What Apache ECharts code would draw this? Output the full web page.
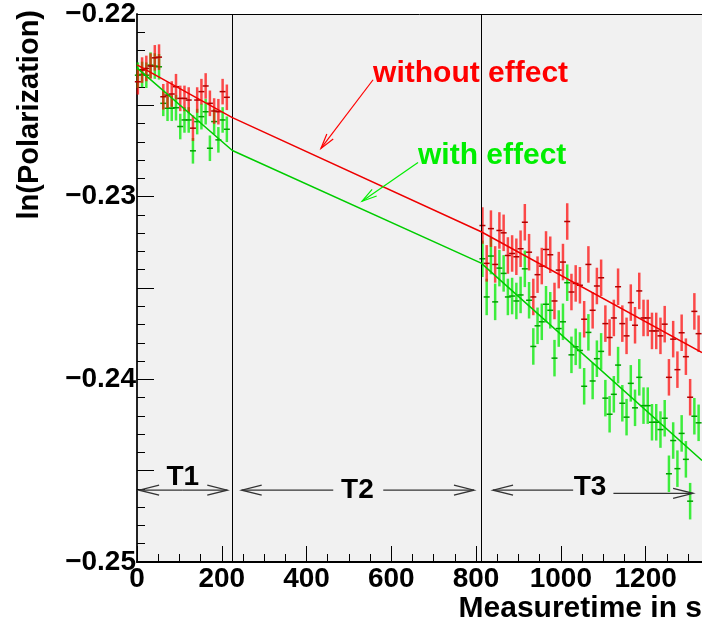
<!DOCTYPE html>
<html>
<head>
<meta charset="utf-8">
<script src="https://cdn.jsdelivr.net/npm/echarts@6/dist/echarts.min.js"></script>
<style>
  html, body { margin: 0; padding: 0; background: #fff; }
  #chart { width: 702px; height: 626px; }
</style>
</head>
<body>
<div id="chart"></div>
<script>
// measuring period T1 (s) and ln(P) values
const t1Time = [2, 12, 22, 32, 42, 52, 62, 72, 82, 92, 102, 112, 122, 132, 142, 152, 162, 172, 182, 192, 202, 212]
const t1Red = [-0.22371, -0.22307, -0.22298, -0.22285, -0.22240, -0.22236, -0.22453, -0.22444, -0.22438, -0.22398, -0.22462,
  -0.22462, -0.22471, -0.22625, -0.22471, -0.22425, -0.22394, -0.22489, -0.22531, -0.22535, -0.22425, -0.22456]
const t1Green = [-0.22335, -0.22331, -0.22335, -0.22280, -0.22285, -0.22289, -0.22489, -0.22516, -0.22516, -0.22513, -0.22616,
  -0.22580, -0.22580, -0.22749, -0.22589, -0.22562, -0.22535, -0.22735, -0.22589, -0.22689, -0.22580, -0.22631]
const t1Err = 0.0007

// measuring period T3
const t3Time = [815, 825, 835, 845, 855, 865, 875, 885, 895, 905, 915, 925, 935, 945, 955, 965, 975, 985, 995, 1005,
  1015, 1025, 1035, 1045, 1055, 1065, 1075, 1085, 1095, 1105, 1115, 1125, 1135, 1145, 1155, 1165, 1175, 1185, 1195, 1205,
  1215, 1225, 1235, 1245, 1255, 1265, 1275, 1285, 1295, 1305, 1315, 1325]
const t3Red = [-0.23158, -0.23365, -0.23175, -0.23371, -0.23185, -0.23198, -0.23322, -0.23311, -0.23329, -0.23285,
  -0.23140, -0.23304, -0.23549, -0.23427, -0.23380, -0.23289, -0.23318, -0.23571, -0.23402, -0.23358,
  -0.23136, -0.23522, -0.23475, -0.23485, -0.23671, -0.23371,
  -0.23622, -0.23489, -0.23444, -0.23695, -0.23771, -0.23664, -0.23493, -0.23695, -0.23762, -0.23580,
  -0.23704, -0.23516, -0.23664, -0.23664, -0.23735, -0.23735, -0.23762, -0.23698, -0.23989, -0.23780,
  -0.23947, -0.23745, -0.23876, -0.24098, -0.23628, -0.23750]
const t3Green = [-0.23340, -0.23549, -0.23325, -0.23576, -0.23391, -0.23420, -0.23549, -0.23544, -0.23571, -0.23538,
  -0.23395, -0.23567, -0.23820, -0.23707, -0.23685, -0.23589, -0.23622, -0.23884, -0.23722, -0.23685,
  -0.23471, -0.23866, -0.23822, -0.23842, -0.24038, -0.23743,
  -0.24009, -0.23887, -0.23847, -0.24103, -0.24191, -0.24082, -0.23922, -0.24131, -0.24207, -0.24022,
  -0.24156, -0.23989, -0.24144, -0.24144, -0.24235, -0.24235, -0.24275, -0.24213, -0.24517, -0.24335,
  -0.24489, -0.24296, -0.24438, -0.24667, -0.24202, -0.24238]
const t3Err = 0.001

// fitted curves (breakpoints at period borders)
const fitTime = [0, 225, 812, 1333]
const fitRed = [-0.22278, -0.22567, -0.23192, -0.23853]
const fitGreen = [-0.22295, -0.22747, -0.23364, -0.24444]

// period borders
const borders = [225, 812]

const FONT = 'Liberation Sans'

function pts (xs, ys, err) {
  return xs.map((x, i) => [x, ys[i], err])
}

function errorBars (color, markColor) {
  return function (params, api) {
    const x = api.value(0)
    const y = api.value(1)
    const e = api.value(2)
    const hi = api.coord([x, y + e])
    const lo = api.coord([x, y - e])
    const c = api.coord([x, y])
    return {
      type: 'group',
      children: [
        { type: 'line', shape: { x1: c[0], y1: hi[1], x2: c[0], y2: lo[1] }, style: { stroke: color, lineWidth: 2.5 } },
        { type: 'line', shape: { x1: c[0] - 3, y1: c[1], x2: c[0] + 3, y2: c[1] }, style: { stroke: markColor, lineWidth: 1.5 } }
      ]
    }
  }
}

const chart = echarts.init(document.getElementById('chart'))

const option = {
  animation: false,
  grid: {
    left: 137, top: 12, right: 0, bottom: 64,
    show: true, backgroundColor: '#f1f1f1', borderWidth: 0
  },
  xAxis: [{
    type: 'value', min: 0, max: 1333, interval: 200,
    axisLine: { show: true, onZero: false, lineStyle: { color: '#000', width: 2 } },
    axisTick: { show: true, inside: true, length: 16, lineStyle: { color: '#000' } },
    minorTick: { show: true, splitNumber: 4, length: 8, lineStyle: { color: '#000' } },
    splitLine: { show: false },
    axisLabel: {
      margin: 3, color: '#000', fontFamily: FONT, fontWeight: 'bold', fontSize: 28, showMaxLabel: false,
      formatter: v => String(Math.round(v))
    }
  }, {
    type: 'value', position: 'top', min: 0, max: 1333,
    axisLine: { show: true, lineStyle: { color: '#000', width: 1 } },
    axisTick: { show: false }, axisLabel: { show: false }, splitLine: { show: false }
  }],
  yAxis: {
    type: 'value', min: -0.25, max: -0.22, interval: 0.005,
    axisLine: { show: true, onZero: false, lineStyle: { color: '#222', width: 2 } },
    axisTick: { show: true, inside: true, length: 17, lineStyle: { color: '#000' } },
    minorTick: { show: true, splitNumber: 5, length: 8, lineStyle: { color: '#000' } },
    splitLine: { show: false },
    axisLabel: {
      margin: 1, color: '#000', fontFamily: FONT, fontWeight: 'bold', fontSize: 28,
      formatter: v => {
        const k = Math.round(v * 1000)
        return k % 10 === 0 ? '\u2212' + Math.abs(v).toFixed(2) : ''
      }
    }
  },
  series: [
    { type: 'custom', renderItem: errorBars('rgba(0,235,0,0.75)', '#00a000'), data: pts(t1Time, t1Green, t1Err), z: 2 },
    { type: 'custom', renderItem: errorBars('rgba(0,235,0,0.75)', '#00a000'), data: pts(t3Time, t3Green, t3Err), z: 2 },
    { type: 'custom', renderItem: errorBars('rgba(255,0,0,0.7)', '#b00000'), data: pts(t1Time, t1Red, t1Err), z: 3 },
    { type: 'custom', renderItem: errorBars('rgba(255,0,0,0.7)', '#b00000'), data: pts(t3Time, t3Red, t3Err), z: 3 },
    {
      type: 'line', data: fitTime.map((x, i) => [x, fitGreen[i]]), showSymbol: false, z: 5,
      lineStyle: { color: '#00cc00', width: 1.5 }
    },
    {
      type: 'line', data: fitTime.map((x, i) => [x, fitRed[i]]), showSymbol: false, z: 5,
      lineStyle: { color: '#ee0000', width: 1.5 },
      markLine: {
        silent: true, symbol: 'none', label: { show: false },
        lineStyle: { color: '#000', width: 1, type: 'solid' },
        data: borders.map(b => ({ xAxis: b }))
      }
    }
  ]
}
chart.setOption(option)

// annotations in data coordinates
const px = (x, y) => chart.convertToPixel({ gridIndex: 0 }, [x, y])

function arrow (from, to, color, len, half, width) {
  const dx = to[0] - from[0]
  const dy = to[1] - from[1]
  const d = Math.sqrt(dx * dx + dy * dy)
  const ux = dx / d
  const uy = dy / d
  const bx = to[0] - ux * len
  const by = to[1] - uy * len
  return [
    { type: 'polyline', shape: { points: [from, to] }, style: { stroke: color, lineWidth: width }, z: 20 },
    {
      type: 'polyline',
      shape: { points: [[bx - uy * half, by + ux * half], to, [bx + uy * half, by - ux * half]] },
      style: { stroke: color, lineWidth: width, fill: null }, z: 20
    }
  ]
}

function label (text, x, y, color, align, size) {
  return {
    type: 'text', x, y, z: 21,
    style: { text, fill: color, font: 'bold ' + (size || 28) + 'px ' + FONT, align: align || 'center', verticalAlign: 'middle' }
  }
}

const yT = -0.24607
const gray = '#333'
const g = []
// T1
g.push(...arrow(px(108, yT), px(5, yT), gray, 20, 5, 1.3))
g.push(...arrow(px(108, yT), px(213, yT), gray, 20, 5, 1.3))
g.push(label('T1', ...px(108, -0.24536), '#000'))
// T2
g.push(...arrow(px(463, yT), px(247, yT), gray, 20, 5, 1.3))
g.push(...arrow(px(581, yT), px(795, yT), gray, 20, 5, 1.3))
g.push(label('T2', ...px(520, yT), '#000'))
// T3
g.push(...arrow(px(1029, -0.24607), px(840, -0.24607), gray, 20, 5, 1.3))
g.push(...arrow(px(1124, -0.24624), px(1312, -0.24624), gray, 20, 5, 1.3))
g.push(label('T3', ...px(1069, -0.24592), '#000'))
// effect labels
g.push(label('without effect', ...px(557, -0.22327), '#ff0000', 'left', 30))
g.push(...arrow(px(557, -0.2236), px(434, -0.22736), '#ff0000', 15, 4, 1.2))
g.push(label('with effect', ...px(663, -0.22775), '#00ee00', 'left', 30))
g.push(...arrow(px(663, -0.22813), px(531, -0.23025), '#00ee00', 15, 4, 1.2))
// axis titles
g.push({
  type: 'text', x: 30, y: 10, rotation: Math.PI / 2, z: 21,
  style: { text: 'ln(Polarization)', fill: '#000', font: 'bold 29px ' + FONT, align: 'right', verticalAlign: 'middle' }
})
g.push({
  type: 'text', x: 702, y: 609, z: 21,
  style: { text: 'Measuretime in s', fill: '#000', font: 'bold 30px ' + FONT, align: 'right', verticalAlign: 'middle' }
})
chart.setOption({ graphic: g })
</script>
</body>
</html>
